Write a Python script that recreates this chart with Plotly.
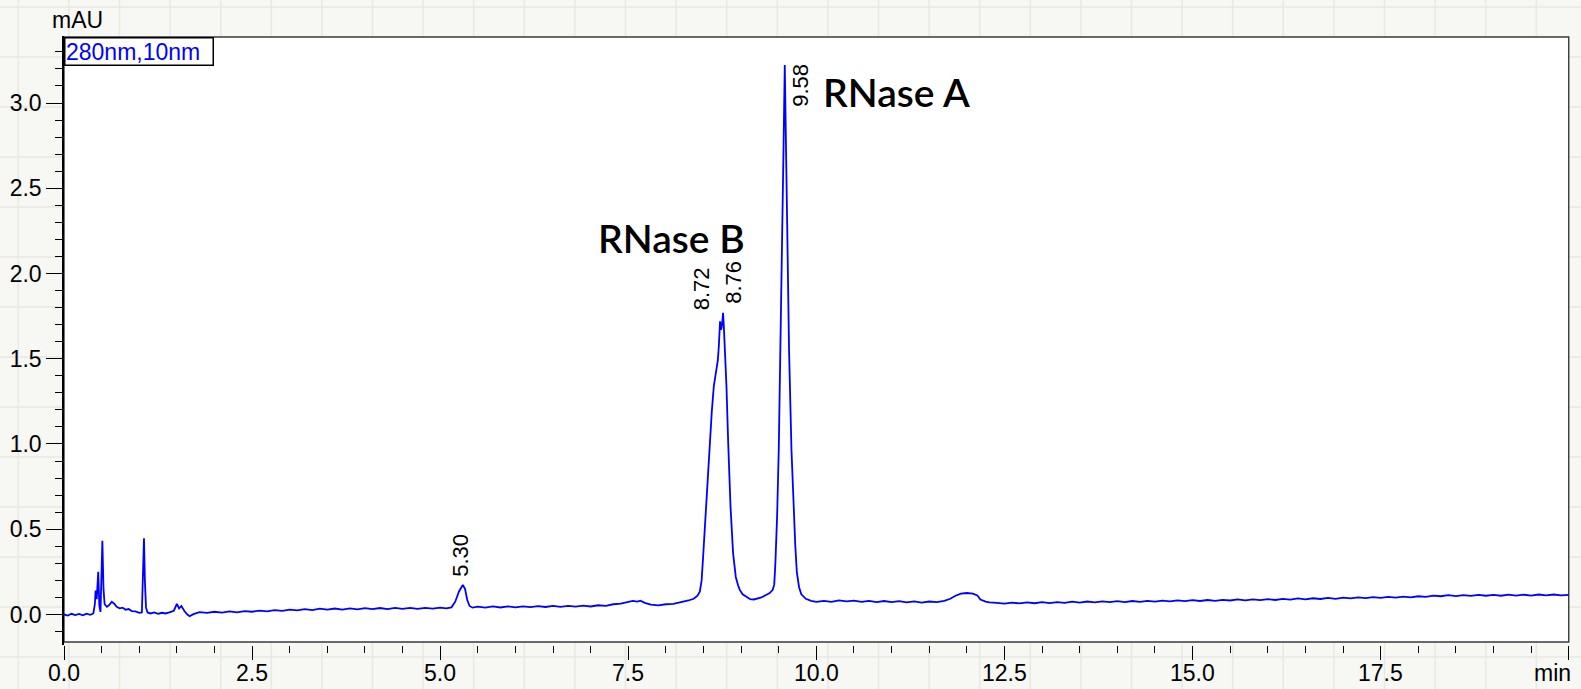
import plotly.graph_objects as go

# ---- chromatogram, 280 nm (bandwidth 10 nm) ----
retention_min = [
    0.00, 0.05, 0.10, 0.15, 0.20, 0.25, 0.30, 0.35, 0.39, 0.41, 0.42, 0.435, 0.455, 0.47, 0.485,
    0.50, 0.51, 0.525, 0.54, 0.57, 0.60, 0.635, 0.67, 0.70, 0.74, 0.78, 0.82, 0.86, 0.90, 0.95,
    1.00, 1.035, 1.05, 1.063, 1.075, 1.09, 1.11, 1.15, 1.20, 1.25, 1.30, 1.35, 1.40, 1.46, 1.50,
    1.53, 1.56, 1.60, 1.64, 1.67, 1.72,
    1.80, 1.90, 2.00, 2.10, 2.20, 2.30, 2.40, 2.50, 2.60, 2.70, 2.80, 2.90, 3.00, 3.10, 3.20,
    3.30, 3.40, 3.50, 3.60, 3.70, 3.80, 3.90, 4.00, 4.10, 4.20, 4.30, 4.40, 4.50, 4.60, 4.70,
    4.80, 4.90, 5.00, 5.08,
    5.15, 5.20, 5.25, 5.30, 5.33, 5.36, 5.39, 5.43,
    5.50, 5.60, 5.70, 5.80, 5.90, 6.00, 6.10, 6.20, 6.30, 6.40, 6.50, 6.60, 6.70, 6.80, 6.90,
    7.00, 7.10, 7.20, 7.30, 7.40, 7.50, 7.56, 7.62, 7.66, 7.72, 7.80, 7.90, 8.00, 8.10, 8.20,
    8.30, 8.37, 8.42,
    8.451, 8.475, 8.495, 8.52, 8.54, 8.574, 8.60, 8.61, 8.637, 8.655, 8.673, 8.69, 8.703, 8.715,
    8.72, 8.732, 8.743, 8.752, 8.76, 8.77, 8.783, 8.805, 8.827, 8.859, 8.893, 8.929, 8.96, 8.982,
    9.02, 9.071, 9.12, 9.17, 9.22, 9.27, 9.33, 9.38, 9.42, 9.44,
    9.455, 9.465, 9.478, 9.50, 9.523, 9.55, 9.563, 9.58, 9.597, 9.616, 9.637, 9.669, 9.70, 9.72,
    9.74, 9.77, 9.80, 9.86, 9.93, 10.00,
    10.1, 10.2, 10.3, 10.4, 10.5, 10.6, 10.7, 10.8, 10.9, 11.0, 11.1, 11.2, 11.3, 11.4, 11.5,
    11.6, 11.7, 11.78, 11.85, 11.92, 12.00, 12.08, 12.14, 12.18, 12.25, 12.30,
    12.4, 12.5, 12.6, 12.7, 12.8, 12.9, 13.0, 13.1, 13.2, 13.3, 13.4, 13.5, 13.6, 13.7, 13.8,
    13.9, 14.0, 14.1, 14.2, 14.3, 14.4, 14.5, 14.6, 14.7, 14.8, 14.9, 15.0, 15.1, 15.2, 15.3,
    15.4, 15.5, 15.6, 15.7, 15.8, 15.9, 16.0, 16.1, 16.2, 16.3, 16.4, 16.5, 16.6, 16.7, 16.8,
    16.9, 17.0, 17.1, 17.2, 17.3, 17.4, 17.5, 17.6, 17.7, 17.8, 17.9, 18.0, 18.1, 18.2, 18.3,
    18.4, 18.5, 18.6, 18.7, 18.8, 18.9, 19.0, 19.1, 19.2, 19.3, 19.4, 19.5, 19.6, 19.7, 19.8,
    19.9, 20.0,
]

signal_mau = [
    0.000, -0.006, 0.004, -0.004, 0.003, -0.005, 0.005, -0.002, 0.006, 0.060, 0.140, 0.090, 0.250, 0.050, 0.015,
    0.200, 0.433, 0.150, 0.060, 0.045, 0.055, 0.075, 0.062, 0.045, 0.036, 0.040, 0.028, 0.032, 0.020, 0.018,
    0.010, 0.012, 0.200, 0.447, 0.200, 0.040, 0.012, 0.006, 0.012, 0.004, 0.010, 0.006, 0.012, 0.022, 0.062,
    0.035, 0.050, 0.020, 0.000, -0.010, 0.002,
    0.014, 0.009, 0.016, 0.011, 0.018, 0.013, 0.020, 0.016, 0.023, 0.018, 0.026, 0.021, 0.029, 0.024, 0.031,
    0.026, 0.034, 0.028, 0.035, 0.029, 0.036, 0.030, 0.037, 0.031, 0.038, 0.032, 0.039, 0.033, 0.039, 0.033,
    0.039, 0.034, 0.040, 0.036,
    0.042, 0.075, 0.135, 0.173, 0.150, 0.085, 0.050, 0.040,
    0.046, 0.040, 0.047, 0.041, 0.048, 0.042, 0.048, 0.043, 0.049, 0.044, 0.050, 0.045, 0.051, 0.046, 0.052,
    0.047, 0.054, 0.050, 0.060, 0.064, 0.074, 0.080, 0.076, 0.081, 0.068, 0.058, 0.053, 0.060, 0.062, 0.070,
    0.082, 0.092, 0.110,
    0.134, 0.200, 0.340, 0.520, 0.690, 0.980, 1.150, 1.190, 1.340, 1.390, 1.420, 1.490, 1.570, 1.660,
    1.720, 1.670, 1.690, 1.730, 1.770, 1.690, 1.570, 1.340, 1.020, 0.630, 0.360, 0.220, 0.170, 0.144,
    0.118, 0.104, 0.090, 0.088, 0.094, 0.100, 0.114, 0.126, 0.145, 0.175,
    0.300, 0.420, 0.574, 0.965, 1.550, 2.140, 2.720, 3.223, 2.720, 2.140, 1.550, 0.965, 0.574, 0.400,
    0.250, 0.160, 0.118, 0.092, 0.080, 0.074,
    0.080, 0.074, 0.083, 0.077, 0.081, 0.074, 0.080, 0.073, 0.079, 0.072, 0.078, 0.071, 0.077, 0.070, 0.076,
    0.072, 0.080, 0.092, 0.110, 0.122, 0.126, 0.122, 0.112, 0.088, 0.076, 0.071,
    0.068, 0.064, 0.070, 0.065, 0.071, 0.066, 0.072, 0.067, 0.073, 0.068, 0.075, 0.070, 0.076, 0.071, 0.077,
    0.072, 0.078, 0.073, 0.079, 0.074, 0.080, 0.075, 0.081, 0.077, 0.083, 0.078, 0.084, 0.079, 0.085, 0.080,
    0.086, 0.082, 0.088, 0.083, 0.089, 0.084, 0.090, 0.085, 0.091, 0.087, 0.094, 0.089, 0.095, 0.091, 0.097,
    0.092, 0.099, 0.094, 0.100, 0.096, 0.102, 0.097, 0.103, 0.099, 0.105, 0.100, 0.107, 0.103, 0.111, 0.107,
    0.113, 0.108, 0.114, 0.109, 0.115, 0.110, 0.115, 0.110, 0.116, 0.111, 0.116, 0.111, 0.117, 0.112, 0.117,
    0.112, 0.115,
]

# integrated peaks: retention time and apex height
peak_rt = [5.30, 8.72, 8.76, 9.58]
peak_height = [0.173, 1.72, 1.77, 3.223]
# pixel offsets of each rotated retention-time label from its apex
peak_label_dx = [-2, -19, 11, 16]
peak_label_dy = [30, 32, 30, -20]

# compound names
compound_names = ["RNase B", "RNase A"]
compound_x = [8.07, 11.06]
compound_y = [2.208, 3.063]

x_tickvals = [0.0, 2.5, 5.0, 7.5, 10.0, 12.5, 15.0, 17.5, 20.0]
x_ticktext = ["0.0", "2.5", "5.0", "7.5", "10.0", "12.5", "15.0", "17.5", "min"]
y_tickvals = [0.0, 0.5, 1.0, 1.5, 2.0, 2.5, 3.0]
y_ticktext = ["0.0", "0.5", "1.0", "1.5", "2.0", "2.5", "3.0"]

X_RANGE = [0.0, 20.03]
Y_RANGE = [-0.179, 3.393]
FRAME_BOTTOM = -0.161
FRAME_TOP = 3.387

W, H = 1581, 689
M_L, M_R, M_T, M_B = 64, 10, 36, 44

PAPER = "#f7f7f3"
GRIDLINE = "#e9e9e3"
AXIS_FONT = dict(family="Liberation Sans, Arial, sans-serif", size=23, color="black")

fig = go.Figure()

fig.add_trace(go.Scatter(
    x=retention_min,
    y=signal_mau,
    mode="lines",
    line=dict(color="#0000ff", width=1.8),
    hoverinfo="skip",
    showlegend=False,
))

shapes = []

# faint graph-paper background around the plot frame
plot_w = W - M_L - M_R
plot_h = H - M_T - M_B
gx = 18.3
while gx < W:
    shapes.append(dict(type="line", xref="paper", yref="paper", layer="below",
                       x0=(gx - M_L) / plot_w, x1=(gx - M_L) / plot_w,
                       y0=(H - M_B - H) / plot_h, y1=(H - M_B) / plot_h,
                       line=dict(color=GRIDLINE, width=1.5)))
    gx += 50.6
gy = 7.0
while gy < H:
    shapes.append(dict(type="line", xref="paper", yref="paper", layer="below",
                       x0=-M_L / plot_w, x1=(W - M_L) / plot_w,
                       y0=(H - M_B - gy) / plot_h, y1=(H - M_B - gy) / plot_h,
                       line=dict(color=GRIDLINE, width=1.5)))
    gy += 50.0

# white plotting frame
shapes.append(dict(type="rect", xref="x", yref="y", layer="below",
                   x0=X_RANGE[0], x1=20.0, y0=FRAME_BOTTOM, y1=FRAME_TOP,
                   fillcolor="white", line=dict(color="#3a3a3a", width=1.4)))

annotations = []

# retention-time labels, rotated
for rt, h, dx, dy in zip(peak_rt, peak_height, peak_label_dx, peak_label_dy):
    annotations.append(dict(
        x=rt, y=h, xref="x", yref="y", text=f"{rt:.2f}", showarrow=False,
        textangle=-90, xanchor="center", yanchor="middle", xshift=dx, yshift=dy,
        font=dict(family="Liberation Sans, Arial, sans-serif", size=22, color="black"),
    ))

# compound names
for name, cx, cy in zip(compound_names, compound_x, compound_y):
    annotations.append(dict(
        x=cx, y=cy, xref="x", yref="y", text=name, showarrow=False,
        xanchor="center", yanchor="middle",
        font=dict(family="Lato, Calibri, sans-serif", size=39, color="black", weight=600),
    ))

# signal / wavelength tag in the frame corner
annotations.append(dict(
    x=0, y=1, xref="paper", yref="paper", text="280nm,10nm", showarrow=False,
    xanchor="left", yanchor="top", align="left", width=146, height=25,
    bgcolor="white", bordercolor="black", borderwidth=1.5, borderpad=0.5,
    yshift=-1,
    font=dict(family="Liberation Sans, Arial, sans-serif", size=23, color="#0000ff"),
))

# y-axis unit
annotations.append(dict(
    x=0, y=1, xref="paper", yref="paper", text="mAU", showarrow=False,
    xanchor="center", yanchor="bottom", xshift=13, yshift=1,
    font=AXIS_FONT,
))

# x tick labels sit on the bottom edge; the last one carries the unit
for tv, tt in zip(x_tickvals, x_ticktext):
    is_unit = tt == "min"
    annotations.append(dict(
        x=tv, y=-M_B / plot_h, xref="x", yref="paper", text=tt, showarrow=False,
        xanchor="right" if is_unit else "center", yanchor="bottom",
        xshift=4 if is_unit else 0, yshift=1,
        font=AXIS_FONT,
    ))

fig.update_layout(
    template="none",
    width=W, height=H, autosize=False,
    margin=dict(l=M_L, r=M_R, t=M_T, b=M_B, pad=0, autoexpand=False),
    paper_bgcolor=PAPER,
    plot_bgcolor="rgba(0,0,0,0)",
    shapes=shapes,
    annotations=annotations,
    hovermode=False,
    xaxis=dict(
        range=X_RANGE, tickvals=x_tickvals, showticklabels=False,
        automargin=False,
        showgrid=False, zeroline=False, showline=False,
        ticks="outside", ticklen=14, tickwidth=1.3, tickcolor="black",
        minor=dict(dtick=0.5, tick0=0, ticks="outside", ticklen=7,
                   tickwidth=1.3, tickcolor="black", showgrid=False),
    ),
    yaxis=dict(
        range=Y_RANGE, tickvals=y_tickvals, ticktext=y_ticktext,
        automargin=False,
        showgrid=False, zeroline=False,
        showline=True, linecolor="black", linewidth=1.5,
        ticks="outside", ticklen=16, tickwidth=1.3, tickcolor="black",
        tickfont=AXIS_FONT,
        minor=dict(dtick=0.1, tick0=0, ticks="outside", ticklen=7,
                   tickwidth=1.3, tickcolor="black", showgrid=False),
    ),
)

fig.write_html("out.html", config={"displayModeBar": False})
